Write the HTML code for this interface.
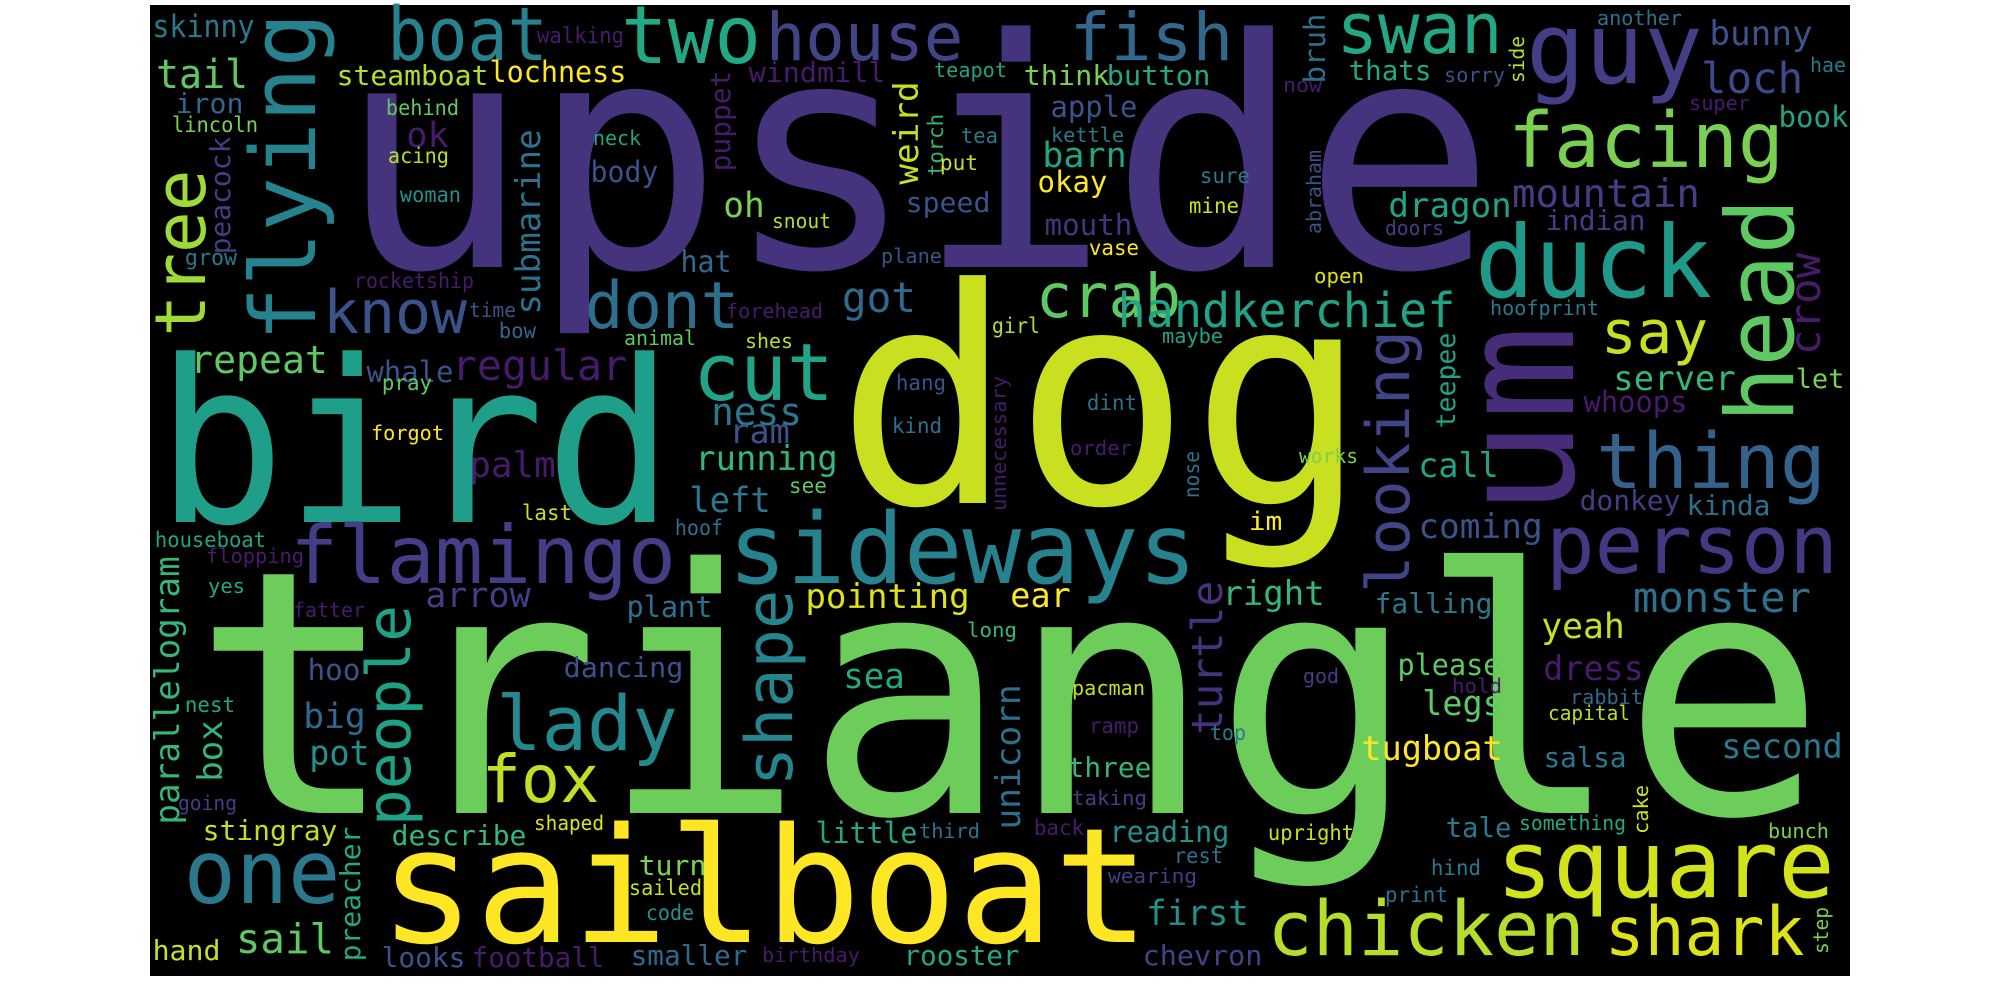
<!DOCTYPE html>
<html><head><meta charset="utf-8">
<style>
html,body{margin:0;padding:0;background:#fff;width:2000px;height:1000px;overflow:hidden}
svg{display:block}
text{font-family:"DejaVu Sans Mono","Liberation Mono",monospace}
</style></head>
<body>
<svg id="cloud" width="2000" height="1000" viewBox="0 0 2000 1000" xmlns="http://www.w3.org/2000/svg">
<rect x="150" y="5" width="1700" height="971" fill="#000"/>
<g id="words"></g>
</svg>
<script>
const words = ["upside","triangle","dog","bird","sailboat","sideways","flamingo","square","chicken","shark",
"person","thing","head","um","duck","guy","swan","facing","loch","house",
"fish","two","boat","flying","tree","know","dont","cut","crab","handkerchief",
"say","lady","fox","one","people","shape","looking","turtle","regular","ness",
"running","ram","repeat","whale","palm","left","arrow","pointing","ear","right",
"falling","monster","yeah","dress","legs","please","tugboat","second","salsa","tale",
"reading","three","first","sail","pot","big","box","parallelogram","stingray","describe",
"preacher","turn","little","unicorn","sea","dancing","hand","looks","football","smaller",
"rooster","chevron","mountain","dragon","indian","crow","server","whoops","kinda","donkey",
"coming","call","teepee","let","book","bunny","submarine","steamboat","lochness","windmill",
"weird","think","button","thats","sorry","apple","barn","okay","speed","mouth",
"got","hat","oh","ok","body","tail","skinny","iron","lincoln","peacock",
"walking","behind","teapot","another","puppet","acing","neck","woman","grow","rocketship",
"time","bow","animal","pray","forgot","torch","put","tea","kettle","snout",
"sure","mine","vase","plane","forehead","girl","maybe","shes","hang","kind",
"dint","order","unnecessary","nose","see","bruh","side","now","hae","super",
"abraham","doors","open","hoofprint","works","im","god","hold","rabbit","capital",
"something","cake","bunch","upright","hind","print","step","long","pacman","ramp",
"top","taking","third","back","rest","wearing","birthday","last","hoof","houseboat",
"flopping","yes","fatter","plant","hoo","nest","going","shaped","sailed","code"];
const xs = [353,209,851,167,387,733,294,1501,1271,1608,
1550,1600,1793,1573,1480,1531,1340,1512,1703,769,
1073,625,391,315,205,326,588,697,1039,1120,
1604,500,485,188,410,792,1409,1222,454,713,
697,731,192,368,471,691,427,807,1012,1224,
1376,1635,1543,1545,1424,1399,1363,1723,1545,1447,
1111,1069,1148,238,311,305,222,179,204,393,
360,640,817,1020,845,565,154,383,473,632,
905,1144,1514,1390,1547,1820,1615,1585,1688,1581,
1420,1420,1455,1797,1780,1711,540,338,491,750,
918,1025,1108,1350,1445,1052,1044,1039,907,1046,
844,682,725,408,592,158,154,177,173,230,
538,387,935,1598,730,389,594,401,186,355,
470,500,625,383,372,943,941,962,1052,773,
1201,1190,1090,882,727,993,1163,746,897,893,
1088,1071,1006,1199,790,1325,1524,1284,1811,1690,
1321,1386,1315,1491,1300,1250,1304,1453,1571,1549,
1520,1648,1769,1269,1432,1386,1828,968,1073,1090,
1211,1073,920,1035,1175,1109,763,523,676,156,
207,209,294,628,309,186,179,535,630,647];
const ys = [267,813,503,522,942,583,583,897,955,955,
573,488,418,508,297,83,53,167,93,60,
60,63,60,337,333,333,328,400,317,327,
353,750,802,903,823,783,590,733,380,425,
470,443,373,382,477,512,607,608,607,605,
613,612,638,680,715,675,760,758,767,837,
842,777,925,953,765,728,780,823,840,845,
960,875,843,828,688,677,960,967,967,965,
965,965,207,217,230,353,390,412,515,510,
538,477,427,388,127,45,313,85,82,82,
183,85,85,80,82,117,167,192,212,235,
312,272,217,147,182,88,37,113,132,253,
43,115,77,25,170,163,145,202,265,288,
317,338,345,390,440,175,170,143,142,228,
183,213,255,263,318,333,343,348,390,433,
410,455,510,497,493,82,82,92,72,110,
233,235,283,315,463,530,683,693,704,720,
830,833,838,840,875,902,953,637,695,733,
740,805,838,835,863,883,962,520,535,547,
563,593,617,617,680,712,810,830,895,920];
const sizes = [318,340,300,226,160,98,80,94,76,68,
81,77,94,158,100,99,70,77,43,66,
66,80,74,90,70,60,65,79,61,48,
60,76,66,88,61,65,60,43,42,38,
34,34,38,29,36,35,35,34,34,34,
28,42,35,34,34,29,34,34,28,28,
29,28,35,41,35,35,34,34,28,28,
28,28,29,34,35,28,28,28,28,28,
28,28,39,34,28,43,34,29,28,28,
34,34,27,27,29,34,34,28,29,28,
34,28,28,28,20,29,35,29,28,29,
42,30,35,35,29,40,31,28,21,28,
22,21,20,20,28,21,20,21,22,21,
20,21,20,21,20,21,21,21,20,20,
21,21,21,20,20,21,20,20,21,21,
21,20,20,21,21,29,20,20,20,20,
20,20,20,20,20,26,20,20,20,20,
20,20,20,21,21,21,20,20,20,21,
21,20,20,21,21,20,20,21,21,21,
20,20,20,29,29,21,20,20,21,21];
const widths = [1127,1600,502,496,755,459,378,329,310,193,
284,222,215,175,227,167,159,268,98,191,
157,132,153,320,160,138,148,133,139,333,
101,174,111,148,215,190,257,150,171,87,
139,57,134,84,83,78,102,161,57,99,
115,174,80,97,77,100,138,118,80,63,
117,81,99,94,57,59,58,265,132,132,
132,65,99,142,58,117,65,81,130,114,
113,117,184,120,97,98,119,101,81,98,
121,77,93,46,67,100,182,149,134,134,
100,83,101,80,59,84,81,67,82,85,
70,48,38,39,65,88,99,65,84,115,
85,71,71,83,98,59,46,59,50,118,
45,35,70,48,71,60,36,35,71,57,
48,48,48,59,95,46,59,46,48,48,
48,60,133,45,36,67,45,37,34,59,
82,57,48,107,57,31,34,48,71,80,
105,47,59,84,48,61,45,48,71,48,
34,73,59,48,47,87,96,48,46,109,
96,35,70,83,50,48,57,68,71,46];
const rots = [0,0,0,0,0,0,0,0,0,0,
0,0,1,1,0,0,0,0,0,0,
0,0,0,1,1,0,0,0,0,0,
0,0,0,0,1,1,1,1,0,0,
0,0,0,0,0,0,0,0,0,0,
0,0,0,0,0,0,0,0,0,0,
0,0,0,0,0,0,1,1,0,0,
1,0,0,1,0,0,0,0,0,0,
0,0,0,0,0,1,0,0,0,0,
0,0,1,0,0,0,1,0,0,0,
1,0,0,0,0,0,0,0,0,0,
0,0,0,0,0,0,0,0,0,1,
0,0,0,0,1,0,0,0,0,0,
0,0,0,0,0,1,0,0,0,0,
0,0,0,0,0,0,0,0,0,0,
0,0,1,1,0,1,1,0,0,0,
1,0,0,0,0,0,0,0,0,0,
0,1,0,0,0,0,1,0,0,0,
0,0,0,0,0,0,0,0,0,0,
0,0,0,0,0,0,0,0,0,0];
const colors = ["#46337e","#6ccd5a","#c8e020","#1f9e89","#fde725","#26828e","#433e85","#d2e21b","#b5de2b","#dde318",
"#453781","#33638d","#5ec962","#472c7a","#1f9a8a","#433e85","#22a884","#7ad151","#3e4989","#414487",
"#31688e","#22a884","#26828e","#26828e","#a0da39","#3b528b","#2d708e","#20a386","#5ec962","#20a386",
"#c8e020","#23898e","#c2df23","#2a788e","#1fa188","#25858e","#414487","#46327e","#481a6c","#2a788e",
"#35b779","#3b528b","#5ec962","#3b528b","#481a6c","#2a788e","#433e85","#dde318","#fde725","#35b779",
"#2a788e","#2d708e","#c8e020","#481a6c","#5ec962","#5ec962","#fde725","#2a788e","#2a788e","#2a788e",
"#21918c","#35b779","#21918c","#5ec962","#21918c","#31688e","#35b779","#35b779","#c2df23","#35b779",
"#22a884","#7ad151","#22a884","#2d708e","#22a884","#3b528b","#c8e020","#3b528b","#481a6c","#31688e",
"#22a884","#414487","#433e85","#20a386","#433e85","#481a6c","#35b779","#481a6c","#2d708e","#433e85",
"#3b528b","#20a386","#20a386","#7ad151","#20a386","#3b528b","#2c728e","#b5de2b","#fde725","#481a6c",
"#c8e020","#7ad151","#22a884","#22a884","#3b528b","#3b528b","#20a386","#fde725","#3b528b","#46327e",
"#31688e","#31688e","#7ad151","#481a6c","#3b528b","#5ec962","#2a788e","#31688e","#7ad151","#433e85",
"#481a6c","#5ec962","#20a386","#2d708e","#481a6c","#b5de2b","#20a386","#21918c","#2a788e","#481a6c",
"#3b528b","#31688e","#5ec962","#5ec962","#fde725","#35b779","#c8e020","#2a788e","#2a788e","#b5de2b",
"#2a788e","#c8e020","#fde725","#3b528b","#481a6c","#b5de2b","#20a386","#b5de2b","#3b528b","#2d708e",
"#2d708e","#481a6c","#481a6c","#2d708e","#5ec962","#2d708e","#b5de2b","#481a6c","#2a788e","#481a6c",
"#3b528b","#433e85","#dde318","#2a788e","#7ad151","#fde725","#433e85","#481a6c","#31688e","#b5de2b",
"#22a884","#c8e020","#7ad151","#c8e020","#2a788e","#2d708e","#7ad151","#35b779","#c2df23","#481a6c",
"#2a788e","#433e85","#2d708e","#481a6c","#2d708e","#433e85","#481a6c","#c8e020","#2d708e","#20a386",
"#481a6c","#22a884","#481a6c","#2d708e","#3b528b","#22a884","#433e85","#dde318","#c2df23","#21918c"];

const g = document.getElementById('words');
for (let i = 0; i < words.length; i++) {
  const t = document.createElementNS('http://www.w3.org/2000/svg', 'text');
  t.textContent = words[i];
  const s = sizes[i];
  t.setAttribute('font-size', s);
  t.setAttribute('fill', colors[i]);
  t.setAttribute('x', (-0.05 * s).toFixed(1));
  t.setAttribute('y', 0);
  t.setAttribute('textLength', (widths[i] + 0.1 * s).toFixed(1));
  t.setAttribute('lengthAdjust', 'spacingAndGlyphs');
  t.setAttribute('transform', 'translate(' + xs[i] + ',' + ys[i] + ')' + (rots[i] ? ' rotate(-90)' : ''));
  
  
  g.appendChild(t);
}
</script>
</body></html>
